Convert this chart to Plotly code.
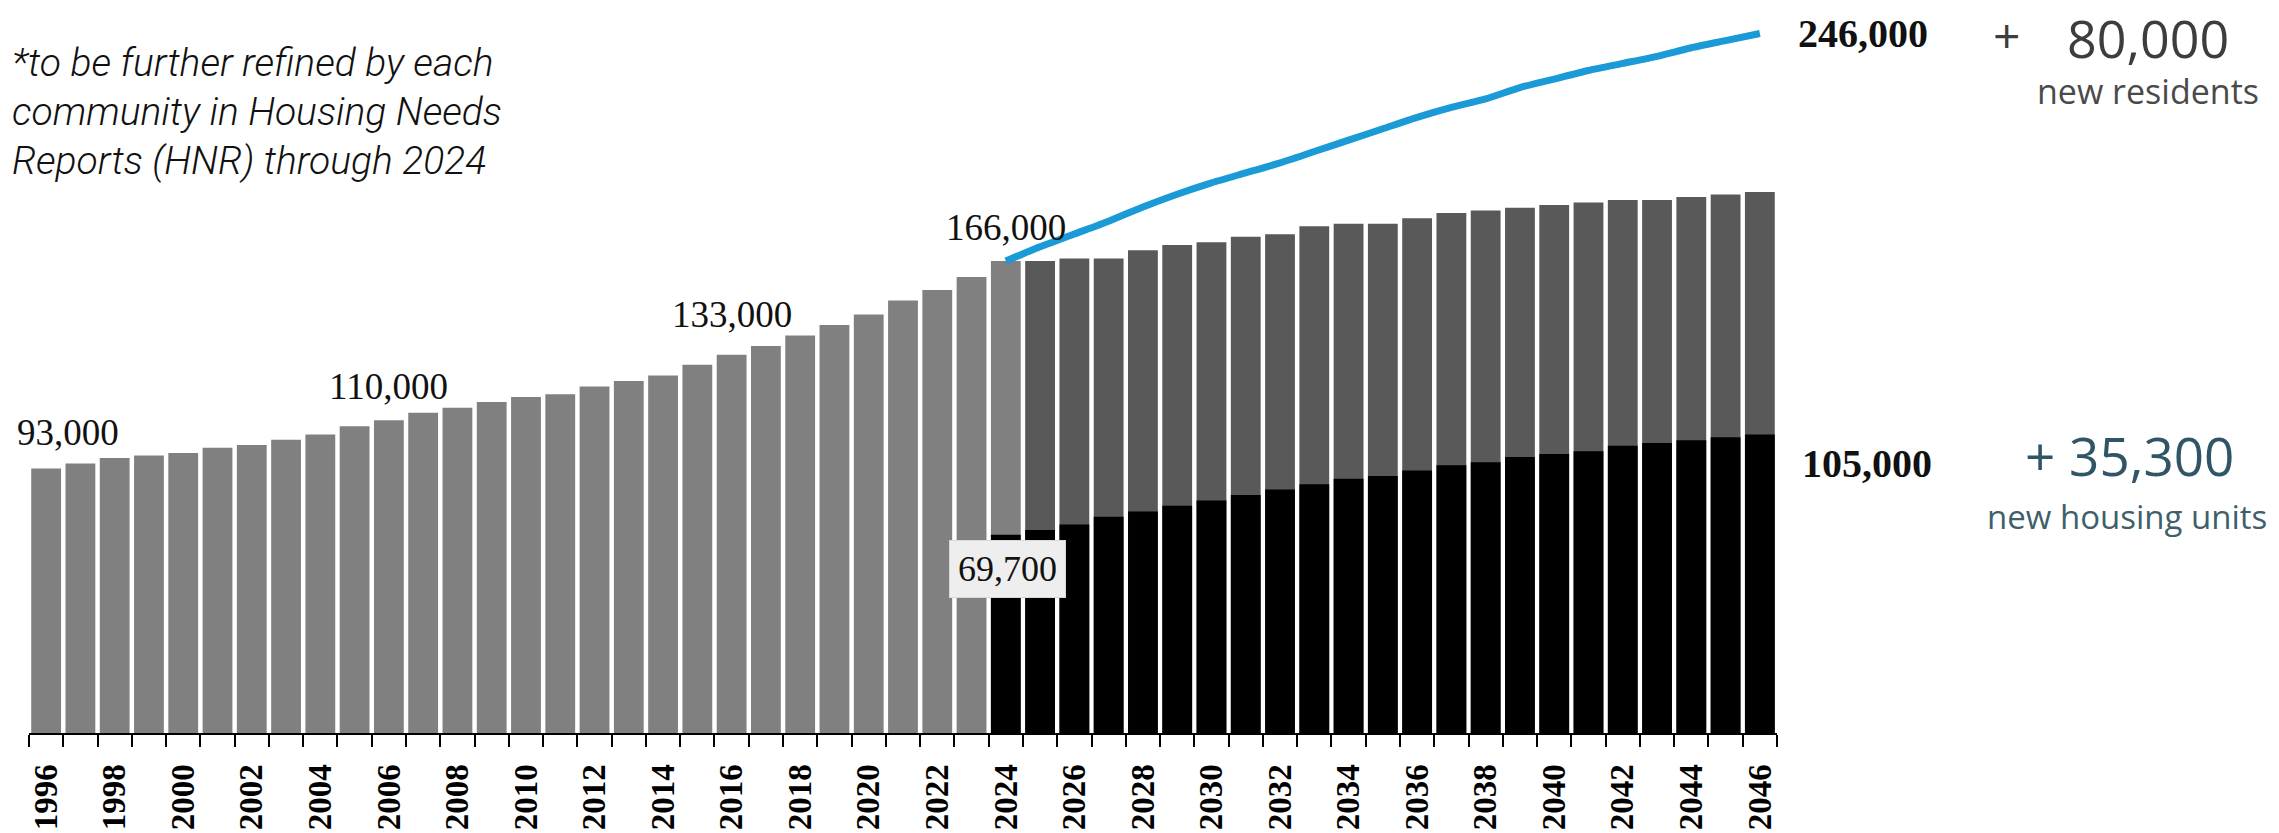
import plotly.graph_objects as go

# ---------------- data ----------------
hist_years = list(range(1996, 2025))
hist_total = [93.0, 94.8, 96.7, 97.6, 98.5, 100.3, 101.3, 103.1, 105.0, 107.9,
              110.0, 112.6, 114.4, 116.4, 118.2, 119.1, 121.9, 123.8, 125.7, 129.5,
              133.0, 136.1, 139.8, 143.5, 147.2, 152.1, 155.8, 160.4, 166.0]
hist_total = [v * 1000 for v in hist_total]

proj_years = list(range(2025, 2047))
proj_total = [166.0, 166.9, 166.9, 169.8, 171.6, 172.6, 174.5, 175.4, 178.2, 179.1,
              179.1, 181.0, 182.9, 183.8, 184.7, 185.7, 186.6, 187.5, 187.5, 188.5,
              189.4, 190.3]
proj_total = [v * 1000 for v in proj_total]

unit_years = list(range(2024, 2047))
housing_units = [69.7, 71.4, 73.3, 76.1, 77.9, 79.9, 81.8, 83.7, 85.6, 87.5,
                 89.4, 90.4, 92.3, 94.2, 95.2, 97.1, 98.1, 99.1, 101.0, 102.0,
                 103.0, 104.0, 105.0]
housing_units = [v * 1000 for v in housing_units]

pop_years = list(range(2024, 2047))
population = [166.0, 171.0, 175.5, 180.0, 185.0, 189.5, 193.5, 197.0, 200.5, 204.5,
              208.5, 212.5, 216.5, 220.0, 223.0, 227.0, 230.0, 233.0, 235.5, 238.0,
              241.0, 243.5, 246.0]
population = [v * 1000 for v in population]

tick_years = list(range(1996, 2047, 2))

# ---------------- figure ----------------
W, H = 2279, 833
ML, MR, MT, MB = 29, 502, 0, 100
PW, PH = W - ML - MR, H - MT - MB

def px(x):
    return (x - ML) / PW

def py(y):
    return (H - MB - y) / PH

serif = "Liberation Serif"
sans = "Open Sans"

fig = go.Figure()
fig.add_trace(go.Bar(x=hist_years, y=hist_total, marker_color="#808080",
                     marker_line_width=0, name="historic"))
fig.add_trace(go.Bar(x=proj_years, y=proj_total, marker_color="#595959",
                     marker_line_width=0, name="projected"))
fig.add_trace(go.Bar(x=unit_years, y=housing_units, marker_color="#000000",
                     marker_line_width=0, name="housing units"))
fig.add_trace(go.Scatter(x=pop_years, y=population, mode="lines",
                         line=dict(color="#1a9ad6", width=7, shape="spline", smoothing=0.6),
                         name="population"))

ann = []
lab_font = dict(family=serif, size=37, color="#111111")
bold_font = dict(family=serif, size=40, color="#111111", weight="bold")

ann.append(dict(x=1996, y=hist_total[0], text="93,000", xanchor="center", yanchor="middle",
                xshift=22, yshift=36, showarrow=False, font=lab_font))
ann.append(dict(x=2006, y=hist_total[10], text="110,000", xanchor="center", yanchor="middle",
                yshift=34, showarrow=False, font=lab_font))
ann.append(dict(x=2016, y=hist_total[20], text="133,000", xanchor="center", yanchor="middle",
                yshift=40, showarrow=False, font=lab_font))
ann.append(dict(x=2024, y=hist_total[-1], text="166,000", xanchor="center", yanchor="middle",
                yshift=34, showarrow=False, font=lab_font))
ann.append(dict(x=2024, y=housing_units[0], text="69,700", xanchor="center", yanchor="middle",
                xshift=2, yshift=-34, showarrow=False, font=dict(family=serif, size=36, color="#111111"),
                bgcolor="#eeeeee", bordercolor="#d8d8d8", borderwidth=1, borderpad=8))
ann.append(dict(x=2046, y=population[-1], text="246,000", xanchor="left", yanchor="middle",
                xshift=36, showarrow=False, font=bold_font))
ann.append(dict(x=2046, y=housing_units[-1], text="105,000", xanchor="left", yanchor="middle",
                xshift=40, yshift=-29, showarrow=False, font=bold_font))

# note text
note_font = dict(family="Roboto", size=39, color="#111111", style="italic", weight=300)
for i, line in enumerate(["*to be further refined by each",
                          "community in Housing Needs",
                          "Reports (HNR) through 2024"]):
    ann.append(dict(xref="paper", yref="paper", x=px(10), y=py(63 + 49 * i), text=line,
                    xanchor="left", yanchor="middle", showarrow=False, font=note_font))

# right-side summary
grey = "#3d3d3d"
slate = "#2f5566"
ann.append(dict(xref="paper", yref="paper", x=px(2006), y=1.0, text="+",
                xanchor="center", yanchor="top", showarrow=False,
                font=dict(family=sans, size=48, color=grey)))
ann.append(dict(xref="paper", yref="paper", x=px(2148), y=1.0, text="80,000",
                xanchor="center", yanchor="top", showarrow=False,
                font=dict(family=sans, size=52, color=grey)))
ann.append(dict(xref="paper", yref="paper", x=px(2148), y=py(91), text="new residents",
                xanchor="center", yanchor="middle", showarrow=False,
                font=dict(family=sans, size=34, color="#4a4a4a")))
ann.append(dict(xref="paper", yref="paper", x=px(2129), y=py(455), text="+ 35,300",
                xanchor="center", yanchor="middle", showarrow=False,
                font=dict(family=sans, size=53, color=slate)))
ann.append(dict(xref="paper", yref="paper", x=px(2127), y=py(516), text="new housing units",
                xanchor="center", yanchor="middle", showarrow=False,
                font=dict(family=sans, size=33, color="#3f5f6b")))

fig.update_layout(
    width=W, height=H,
    margin=dict(l=ML, r=MR, t=MT, b=MB, autoexpand=False),
    paper_bgcolor="white", plot_bgcolor="white",
    barmode="overlay", bargap=0.13,
    showlegend=False,
    annotations=ann,
    xaxis=dict(range=[1995.5, 2046.5], tickvals=tick_years,
               ticktext=[str(y) for y in tick_years], tickangle=-90,
               tickfont=dict(family=serif, size=33, color="#000000", weight="bold"),
               ticks="", ticklabelstandoff=16, automargin=False,
               showline=True, linecolor="#000000", linewidth=2,
               showgrid=False, zeroline=False,
               minor=dict(tick0=1995.5, dtick=1, ticks="outside", ticklen=12,
                          tickcolor="#000000", tickwidth=2, showgrid=False)),
    yaxis=dict(range=[0, 257800], visible=False, showgrid=False, zeroline=False,
               automargin=False),
)

fig.write_html("out.html", config={"displayModeBar": False},
               post_script="document.body.style.margin='0';document.body.style.overflow='hidden';")
